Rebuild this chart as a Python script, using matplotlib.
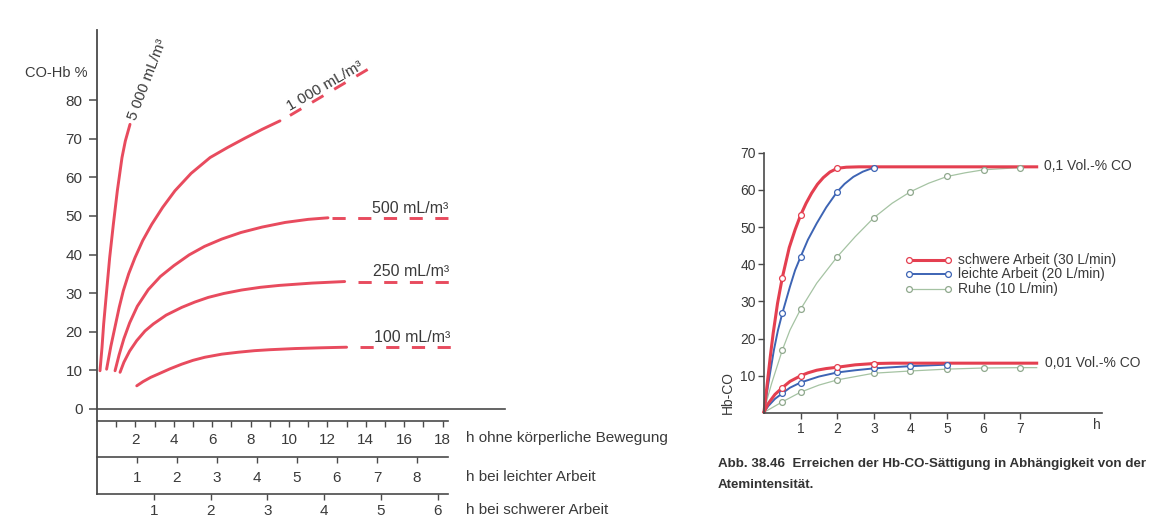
import matplotlib
matplotlib.use('Agg')
import matplotlib.pyplot as plt

W, H = 1153, 518

# --- left panel: CO-Hb % over hours without exercise ---
c5000_h = [0.156, 0.26, 0.347, 0.503, 0.66, 0.851, 1.059, 1.302, 1.476, 1.719]
c5000_v = [9.9, 15.9, 22.0, 30.6, 39.2, 47.8, 56.5, 65.1, 69.4, 73.7]
c1000_h = [0.50, 0.72, 0.97, 1.16, 1.37, 1.65, 1.98, 2.38, 2.85, 3.42, 4.06,
           4.9, 5.89, 6.8, 7.7, 8.6, 9.53]
c1000_v = [10.3, 16.2, 22.0, 26.4, 30.6, 35.0, 39.2, 43.6, 47.8, 52.2, 56.5,
           61.0, 65.1, 67.7, 70.1, 72.4, 74.6]
c500_h = [0.94, 1.15, 1.4, 1.7, 2.1, 2.67, 3.3, 4.0, 4.8, 5.6, 6.5, 7.5, 8.6,
          9.8, 11.0, 12.03]
c500_v = [9.9, 14.0, 18.2, 22.3, 26.6, 30.9, 34.3, 37.1, 39.9, 42.1, 44.0, 45.7,
          47.1, 48.3, 49.1, 49.5]
c250_h = [1.2, 1.4, 1.7, 2.07, 2.5, 2.93, 3.6, 4.41, 5.1, 5.8, 6.6, 7.53, 8.5,
          9.5, 11.2, 12.9]
c250_v = [9.5, 12.1, 15.0, 17.7, 20.2, 22.0, 24.3, 26.3, 27.7, 28.9, 29.9, 30.8,
          31.5, 32.0, 32.6, 33.0]
c100_h = [2.07, 2.4, 2.8, 3.19, 3.8, 4.41, 5.0, 5.62, 6.5, 7.36, 8.2, 9.0, 10.31,
          11.7, 13.0]
c100_v = [6.0, 7.1, 8.2, 9.05, 10.4, 11.6, 12.6, 13.4, 14.2, 14.7, 15.1, 15.35,
          15.65, 15.85, 16.0]

# dashed continuations
d1000_h, d1000_v = [10.05, 14.4], [76.0, 88.8]
d500_h, d500_v = [12.22, 18.65], [49.5, 49.5]
d250_h, d250_v = [13.6, 18.65], [33.0, 33.0]
d100_h, d100_v = [13.7, 18.65], [16.0, 16.0]

left_yticks = [0, 10, 20, 30, 40, 50, 60, 70, 80]

# conversion rulers
ruhe_ticks = list(range(1, 19))
ruhe_labels = [str(t) if t % 2 == 0 else '' for t in ruhe_ticks]
leicht_ticks = list(range(1, 9))
schwer_ticks = list(range(1, 7))

# --- right panel: Hb-CO over hours ---
hi_red_h = [0, 0.09, 0.17, 0.25, 0.37, 0.5, 0.69, 0.85, 1.0, 1.15, 1.3, 1.46,
            1.62, 1.8, 2.0, 2.25, 2.6, 7.45]
hi_red_v = [0.3, 8.0, 15.0, 21.4, 29.5, 36.4, 44.5, 49.3, 53.2, 56.4, 59.1, 61.5,
            63.3, 64.8, 65.8, 66.1, 66.2, 66.2]
hi_red_mh = [0.5, 1, 2]
hi_red_mv = [36.4, 53.2, 65.8]

hi_blue_h = [0, 0.12, 0.27, 0.38, 0.5, 0.71, 0.85, 1.0, 1.2, 1.44, 1.7, 2.0,
             2.2, 2.44, 2.7, 3.0]
hi_blue_v = [0.3, 8.0, 16.9, 22.2, 26.8, 34.0, 38.4, 42.0, 46.6, 51.0, 55.3,
             59.5, 61.6, 63.5, 64.9, 66.0]
hi_blue_mh = [0.5, 1, 2, 3]
hi_blue_mv = [26.8, 42.0, 59.5, 66.0]

hi_green_h = [0, 0.1, 0.21, 0.5, 0.71, 1.0, 1.44, 2.0, 2.49, 3.0, 3.5, 4.0, 4.5,
              5.0, 5.5, 6.0, 7.0, 7.45]
hi_green_v = [0.3, 4.2, 8.0, 16.9, 22.3, 27.9, 34.9, 42.0, 47.4, 52.5, 56.4, 59.5,
              61.8, 63.6, 64.6, 65.4, 66.0, 66.2]
hi_green_mh = [0.5, 1, 2, 3, 4, 5, 6, 7]
hi_green_mv = [16.9, 27.9, 42.0, 52.5, 59.5, 63.6, 65.4, 66.0]

lo_red_h = [0, 0.12, 0.3, 0.5, 0.71, 1.0, 1.2, 1.44, 1.7, 2.0, 2.49, 3.0, 3.5, 7.45]
lo_red_v = [0.3, 2.6, 5.0, 6.8, 8.5, 10.0, 10.8, 11.5, 11.95, 12.3, 12.95, 13.3,
            13.4, 13.4]
lo_red_mh = [0.5, 1, 2, 3]
lo_red_mv = [6.8, 10.0, 12.3, 13.3]

lo_blue_h = [0, 0.12, 0.3, 0.5, 0.71, 1.0, 1.5, 2.0, 2.5, 3.0, 4.0, 5.0]
lo_blue_v = [0.3, 1.9, 3.8, 5.3, 6.8, 8.2, 9.8, 10.9, 11.5, 12.0, 12.6, 13.0]
lo_blue_mh = [0.5, 1, 2, 3, 4, 5]
lo_blue_mv = [5.3, 8.2, 10.9, 12.0, 12.6, 13.0]

lo_green_h = [0, 0.2, 0.5, 1.0, 1.5, 2.0, 3.0, 4.0, 5.0, 6.0, 7.0, 7.45]
lo_green_v = [0.2, 1.3, 3.0, 5.6, 7.5, 8.9, 10.7, 11.3, 11.8, 12.1, 12.2, 12.2]
lo_green_mh = [0.5, 1, 2, 3, 4, 5, 6, 7]
lo_green_mv = [3.0, 5.6, 8.9, 10.7, 11.3, 11.8, 12.1, 12.2]

right_xticks = [1, 2, 3, 4, 5, 6, 7]
right_yticks = [10, 20, 30, 40, 50, 60, 70]

RED_L = '#e84b5e'
RED = '#e43f50'
BLUE = '#3d64b4'
GREEN = '#a5c3a3'
GREEN_M = '#8fa88d'
AX = '#4a4a4a'
TXT = '#3a3a3a'

plt.rcParams['font.family'] = ['Liberation Sans', 'DejaVu Sans']
plt.rcParams['lines.scale_dashes'] = False

fig = plt.figure(figsize=(W / 100, H / 100), dpi=100)
fig.patch.set_facecolor('white')


def box(x0, y0, x1, y1):
    # pixel box (top-left origin) -> figure fraction rect
    return [x0 / W, 1 - y1 / H, (x1 - x0) / W, (y1 - y0) / H]


# ---------------- left panel ----------------
ax = fig.add_axes(box(97, 30, 505, 409))
ax.set_xlim(0, 408 / 19.2)
ax.set_ylim(0, 379 / 3.8625)
for s in ax.spines.values():
    s.set_visible(False)
ax.patch.set_visible(False)
ax.set_xticks([])
ax.set_yticks(left_yticks)
ax.tick_params(axis='y', length=6, width=1.1, color=AX, pad=4.5,
               labelsize=11, labelcolor=TXT)
ax.axhline(0, color=AX, lw=1.2, clip_on=False)
ax.plot([0, 0], [379 / 3.8625, -85 / 3.8625], color=AX, lw=1.3, clip_on=False)

for hh, vv in [(c5000_h, c5000_v), (c1000_h, c1000_v), (c500_h, c500_v),
               (c250_h, c250_v), (c100_h, c100_v)]:
    ax.plot(hh, vv, color=RED_L, lw=2.1, solid_capstyle='round',
            solid_joinstyle='round')
for hh, vv in [(d1000_h, d1000_v), (d500_h, d500_v), (d250_h, d250_v),
               (d100_h, d100_v)]:
    ax.plot(hh, vv, color=RED_L, lw=2.1, dashes=(9.5, 9.0), clip_on=False)

ax.text(-0.5, 87, 'CO-Hb %', ha='right', va='center', fontsize=10.5, color=TXT)
ax.text(2.62, 85.2, '5 000 mL/m³', rotation=69, rotation_mode='anchor',
        ha='center', va='center', fontsize=11, color=TXT)
ax.text(11.9, 83.5, '1 000 mL/m³', rotation=30, rotation_mode='anchor',
        ha='center', va='center', fontsize=11, color=TXT)
ax.text(14.3, 51.8, '500 mL/m³', ha='left', va='center', fontsize=11.5, color=TXT)
ax.text(14.4, 35.5, '250 mL/m³', ha='left', va='center', fontsize=11.5, color=TXT)
ax.text(14.45, 18.6, '100 mL/m³', ha='left', va='center', fontsize=11.5, color=TXT)


def ruler(y, px_per_h, ticks, labels, pad, title, ty):
    r = fig.add_axes(box(97, y - 1, 448, y))
    r.set_xlim(0, 351 / px_per_h)
    r.patch.set_visible(False)
    for k, s in r.spines.items():
        s.set_visible(k == 'bottom')
    r.spines['bottom'].set_color(AX)
    r.spines['bottom'].set_linewidth(1.2)
    r.set_yticks([])
    r.set_xticks(ticks, labels)
    r.tick_params(axis='x', length=4.5, width=1.0, color=AX, pad=pad,
                  labelsize=11, labelcolor=TXT)
    fig.text(466 / W, 1 - ty / H, title, ha='left', va='center',
             fontsize=11, color=TXT)


ruler(421, 19.2, ruhe_ticks, ruhe_labels, 4.0, 'h ohne körperliche Bewegung', 438)
ruler(457, 40.0, leicht_ticks, [str(t) for t in leicht_ticks], 5.5,
      'h bei leichter Arbeit', 477)
ruler(494, 56.8, schwer_ticks, [str(t) for t in schwer_ticks], 2.8,
      'h bei schwerer Arbeit', 510)

# ---------------- right panel ----------------
ax2 = fig.add_axes(box(764, 152.7, 1102, 413))
ax2.set_xlim(0, 338 / 36.6)
ax2.set_ylim(0, 70)
ax2.patch.set_visible(False)
for k in ('top', 'right'):
    ax2.spines[k].set_visible(False)
for k in ('left', 'bottom'):
    ax2.spines[k].set_color(AX)
    ax2.spines[k].set_linewidth(1.2)
ax2.set_xticks(right_xticks)
ax2.set_yticks(right_yticks)
ax2.tick_params(axis='both', length=4.5, width=1.0, color=AX,
                labelsize=10, labelcolor=TXT)
ax2.tick_params(axis='x', pad=2)
ax2.tick_params(axis='y', pad=1.5)

series = [
    (hi_green_h, hi_green_v, hi_green_mh, hi_green_mv, GREEN, 0.9, GREEN_M),
    (lo_green_h, lo_green_v, lo_green_mh, lo_green_mv, GREEN, 0.9, GREEN_M),
    (hi_blue_h, hi_blue_v, hi_blue_mh, hi_blue_mv, BLUE, 1.4, BLUE),
    (lo_blue_h, lo_blue_v, lo_blue_mh, lo_blue_mv, BLUE, 1.4, BLUE),
    (hi_red_h, hi_red_v, hi_red_mh, hi_red_mv, RED, 2.2, RED),
    (lo_red_h, lo_red_v, lo_red_mh, lo_red_mv, RED, 2.2, RED),
]
for hh, vv, mh, mv, col, lw, mcol in series:
    ax2.plot(hh, vv, color=col, lw=lw, clip_on=False, zorder=2,
             solid_joinstyle='round')
    ax2.plot(mh, mv, ls='none', marker='o', ms=4.2, mfc='white', mec=mcol,
             mew=0.9, clip_on=False, zorder=3)

# legend drawn by hand: short line with a circle at both ends
leg = [(RED, RED, 2.2, 41.1, 'schwere Arbeit (30 L/min)'),
       (BLUE, BLUE, 1.4, 37.4, 'leichte Arbeit (20 L/min)'),
       (GREEN, GREEN_M, 0.9, 33.3, 'Ruhe (10 L/min)')]
for col, mcol, lw, yy, lab in leg:
    ax2.plot([3.96, 5.03], [yy, yy], color=col, lw=lw, marker='o', ms=4.2,
             mfc='white', mec=mcol, mew=0.9)
    ax2.text(5.3, yy, lab, ha='left', va='center', fontsize=10, color=TXT)

ax2.text(7.65, 66.3, '0,1 Vol.-% CO', ha='left', va='center', fontsize=10, color=TXT)
ax2.text(7.67, 13.4, '0,01 Vol.-% CO', ha='left', va='center', fontsize=10, color=TXT)
ax2.text(9.1, -3.2, 'h', ha='center', va='center', fontsize=10, color=TXT)
ax2.text(-1.0, 5.4, 'Hb-CO', rotation=90, ha='center', va='center',
         fontsize=10, color=TXT)

fig.text(718 / W, 1 - 464 / H,
         'Abb. 38.46  Erreichen der Hb-CO-Sättigung in Abhängigkeit von der',
         fontweight='bold', fontsize=9.6, color='#333333',
         ha='left', va='center')
fig.text(718 / W, 1 - 485 / H, 'Atemintensität.',
         fontweight='bold', fontsize=9.6, color='#333333',
         ha='left', va='center')

fig.savefig('out.png', dpi=100, facecolor='white')
